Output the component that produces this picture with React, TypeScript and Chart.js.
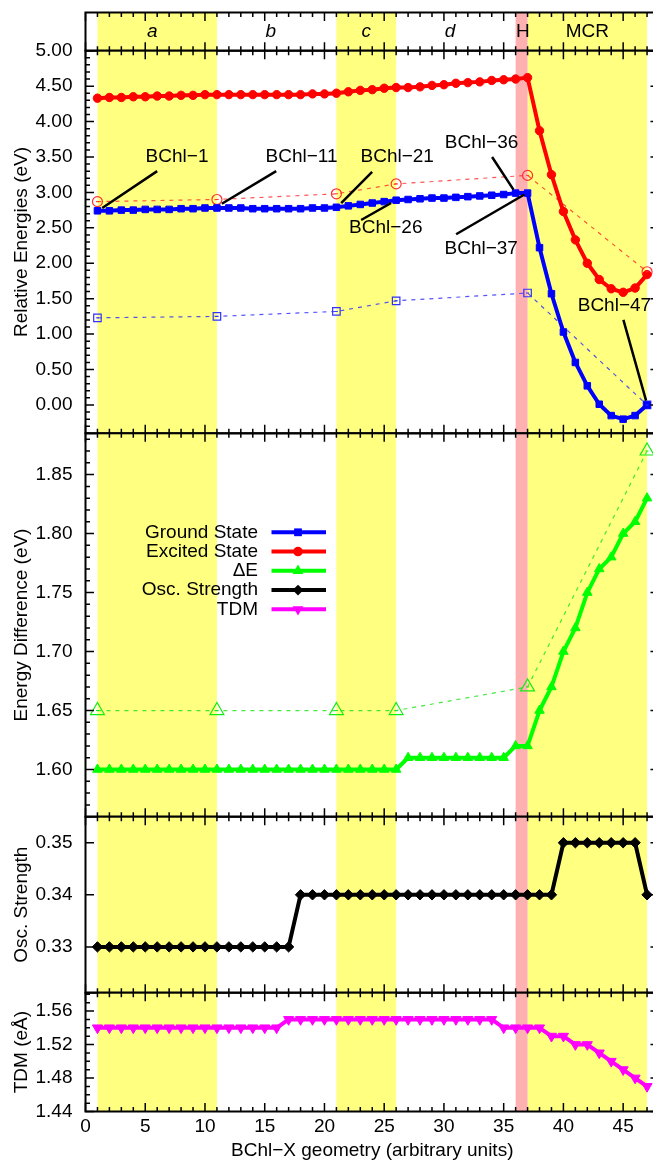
import React, { useEffect, useRef } from 'react';
import { Chart, registerables } from 'chart.js';

Chart.register(...registerables);

// ---------------- data ----------------
const geometry = [
  1, 2, 3, 4, 5, 6, 7, 8, 9, 10,
  11, 12, 13, 14, 15, 16, 17, 18, 19, 20,
  21, 22, 23, 24, 25, 26, 27, 28, 29, 30,
  31, 32, 33, 34, 35, 36, 37, 38, 39, 40,
  41, 42, 43, 44, 45, 46, 47,
];
const groundState = [
  2.74, 2.74, 2.75, 2.75, 2.76, 2.76, 2.76, 2.77, 2.77, 2.78,
  2.78, 2.78, 2.78, 2.77, 2.77, 2.77, 2.77, 2.77, 2.78, 2.78,
  2.79, 2.81, 2.83, 2.85, 2.87, 2.89, 2.90, 2.91, 2.92, 2.92,
  2.93, 2.94, 2.95, 2.96, 2.97, 2.99, 2.99, 2.22, 1.57, 1.03,
  0.60, 0.27, 0.01, -0.15, -0.20, -0.15, 0.00,
];
const excitedState = [
  4.33, 4.34, 4.34, 4.35, 4.35, 4.36, 4.36, 4.37, 4.37, 4.38,
  4.38, 4.38, 4.38, 4.38, 4.38, 4.38, 4.38, 4.38, 4.39, 4.39,
  4.40, 4.42, 4.44, 4.45, 4.47, 4.48, 4.48, 4.49, 4.51, 4.52,
  4.54, 4.55, 4.56, 4.58, 4.59, 4.60, 4.62, 3.87, 3.25, 2.73,
  2.33, 2.00, 1.77, 1.64, 1.59, 1.65, 1.84,
];
const deltaE = [
  1.60, 1.60, 1.60, 1.60, 1.60, 1.60, 1.60, 1.60, 1.60, 1.60,
  1.60, 1.60, 1.60, 1.60, 1.60, 1.60, 1.60, 1.60, 1.60, 1.60,
  1.60, 1.60, 1.60, 1.60, 1.60, 1.60, 1.61, 1.61, 1.61, 1.61,
  1.61, 1.61, 1.61, 1.61, 1.61, 1.62, 1.62, 1.65, 1.67, 1.70,
  1.72, 1.75, 1.77, 1.78, 1.80, 1.81, 1.83,
];
const oscStrength = [
  0.33, 0.33, 0.33, 0.33, 0.33, 0.33, 0.33, 0.33, 0.33, 0.33,
  0.33, 0.33, 0.33, 0.33, 0.33, 0.33, 0.33, 0.34, 0.34, 0.34,
  0.34, 0.34, 0.34, 0.34, 0.34, 0.34, 0.34, 0.34, 0.34, 0.34,
  0.34, 0.34, 0.34, 0.34, 0.34, 0.34, 0.34, 0.34, 0.34, 0.35,
  0.35, 0.35, 0.35, 0.35, 0.35, 0.35, 0.34,
];
const tdm = [
  1.54, 1.54, 1.54, 1.54, 1.54, 1.54, 1.54, 1.54, 1.54, 1.54,
  1.54, 1.54, 1.54, 1.54, 1.54, 1.54, 1.55, 1.55, 1.55, 1.55,
  1.55, 1.55, 1.55, 1.55, 1.55, 1.55, 1.55, 1.55, 1.55, 1.55,
  1.55, 1.55, 1.55, 1.55, 1.54, 1.54, 1.54, 1.54, 1.53, 1.53,
  1.52, 1.52, 1.51, 1.50, 1.49, 1.48, 1.47,
];

const snapshotGeometry = [1, 11, 21, 26, 37, 47];
const groundSnapshot = [1.23, 1.25, 1.32, 1.47, 1.58, 0.00];
const excitedSnapshot = [2.87, 2.90, 2.98, 3.12, 3.24, 1.88];
const deltaSnapshot = [1.65, 1.65, 1.65, 1.65, 1.67, 1.87];

const regionLabels = ['a', 'b', 'c', 'd', 'H', 'MCR'];
const regionLabelX = [5.6, 15.5, 23.5, 30.5, 36.6, 42];
const regionItalic = [true, true, true, true, false, false];
const yellowBands = [[1, 11], [21, 26], [37, 47]];
const pinkBand = [36, 37];

const annotLabels = ['BChl−1', 'BChl−11', 'BChl−21', 'BChl−26', 'BChl−36', 'BChl−37', 'BChl−47'];
const annotTextX = [7.66, 18.08, 26.09, 25.13, 33.15, 33.12, 44.27];
const annotTextY = [3.50, 3.50, 3.50, 2.50, 3.70, 2.20, 1.40];
const annotLineX1 = [6.0, 15.96, 23.99, 23.07, 34.03, 31.02, 45.02];
const annotLineY1 = [3.30, 3.30, 3.29, 2.61, 3.50, 2.41, 1.20];
const annotLineX2 = [1.4, 11.41, 21.4, 25.58, 35.82, 36.74, 46.92];
const annotLineY2 = [2.78, 2.84, 2.85, 2.85, 3.04, 2.97, 0.06];

const legendLabels = ['Ground State', 'Excited State', 'ΔE', 'Osc. Strength', 'TDM'];
const legendColors = ['#0000ff', '#ff0000', '#00ff00', '#000000', '#ff00ff'];
const legendMarkers = ['rect', 'circle', 'triangle', 'rectRot', 'triangleDown'];

const xTicks = [0, 5, 10, 15, 20, 25, 30, 35, 40, 45];
const energyTicks = [0.0, 0.5, 1.0, 1.5, 2.0, 2.5, 3.0, 3.5, 4.0, 4.5, 5.0];
const deltaTicks = [1.60, 1.65, 1.70, 1.75, 1.80, 1.85];
const oscTicks = [0.33, 0.34, 0.35];
const tdmTicks = [1.44, 1.48, 1.52, 1.56];

// ---------------- layout / style ----------------
const FONT_FAMILY = '"Liberation Sans", Arial, Helvetica, sans-serif';
const FONT_SIZE = 19;
const PAGE_W = 653;
const PAGE_H = 1161;
const CANVAS_W = 672;
const AREA_LEFT = 85.5;
const AREA_RIGHT = 659;
const X_MIN = 0;
const X_MAX = 48;
const MARGIN = 30;
const YELLOW = '#ffff80';
const PINK = '#ffb0b0';

function steps(from: number, to: number, step: number): number[] {
  const out: number[] = [];
  const n = Math.round((to - from) / step);
  for (let i = 0; i <= n; i++) out.push(+(from + i * step).toFixed(6));
  return out;
}

const xy = (xs: number[], ys: number[]) => xs.map((x, i) => ({ x, y: ys[i] }));

function drawMarker(ctx: CanvasRenderingContext2D, style: string, x: number, y: number, r: number) {
  ctx.beginPath();
  if (style === 'rect') {
    const s = r * Math.SQRT1_2;
    ctx.rect(x - s, y - s, 2 * s, 2 * s);
  } else if (style === 'circle') {
    ctx.arc(x, y, r, 0, Math.PI * 2);
  } else if (style === 'triangle') {
    ctx.moveTo(x, y - r);
    ctx.lineTo(x + 0.866 * r, y + 0.5 * r);
    ctx.lineTo(x - 0.866 * r, y + 0.5 * r);
    ctx.closePath();
  } else if (style === 'triangleDown') {
    ctx.moveTo(x, y + r);
    ctx.lineTo(x + 0.866 * r, y - 0.5 * r);
    ctx.lineTo(x - 0.866 * r, y - 0.5 * r);
    ctx.closePath();
  } else {
    ctx.moveTo(x - r, y);
    ctx.lineTo(x, y - r);
    ctx.lineTo(x + r, y);
    ctx.lineTo(x, y + r);
    ctx.closePath();
  }
  ctx.fill();
}

const bandPlugin = {
  id: 'bands',
  beforeDatasetsDraw(chart: any) {
    const { ctx, chartArea, scales } = chart;
    const { top, bottom } = chartArea;
    const x = scales.x;
    ctx.save();
    ctx.fillStyle = YELLOW;
    yellowBands.forEach(([a, b]) => {
      const x1 = x.getPixelForValue(a);
      const x2 = x.getPixelForValue(b);
      ctx.fillRect(x1, top, x2 - x1, bottom - top);
    });
    ctx.fillStyle = PINK;
    const p1 = x.getPixelForValue(pinkBand[0]);
    const p2 = x.getPixelForValue(pinkBand[1]);
    ctx.fillRect(p1, top, p2 - p1, bottom - top);
    ctx.restore();
  },
};

// small centre dash inside the open (snapshot) markers
const centreDotPlugin = {
  id: 'centreDots',
  afterDatasetsDraw(chart: any) {
    const { ctx } = chart;
    ctx.save();
    chart.data.datasets.forEach((ds: any, i: number) => {
      if (!ds.openMarker) return;
      const meta = chart.getDatasetMeta(i);
      ctx.strokeStyle = ds.pointBorderColor;
      ctx.lineWidth = 1;
      ctx.beginPath();
      meta.data.forEach((pt: any) => {
        ctx.moveTo(pt.x - 1.5, pt.y);
        ctx.lineTo(pt.x + 1.5, pt.y);
      });
      ctx.stroke();
    });
    ctx.restore();
  },
};

function framePlugin(major: number[], minor: number[]) {
  return {
    id: 'frame',
    afterDatasetsDraw(chart: any) {
      const { ctx, chartArea, scales } = chart;
      const { left, right, top, bottom } = chartArea;
      const x = scales.x;
      const y = scales.y;
      ctx.save();
      ctx.strokeStyle = '#000';
      ctx.lineWidth = 1.5;
      ctx.beginPath();
      for (let v = X_MIN; v <= X_MAX; v++) {
        const px = x.getPixelForValue(v);
        const len = v % 5 === 0 ? 8.5 : 4.5;
        ctx.moveTo(px, top);
        ctx.lineTo(px, top + len);
        ctx.moveTo(px, bottom);
        ctx.lineTo(px, bottom - len);
      }
      const yTick = (v: number, len: number) => {
        const py = y.getPixelForValue(v);
        ctx.moveTo(left, py);
        ctx.lineTo(left + len, py);
        ctx.moveTo(right, py);
        ctx.lineTo(right - len, py);
      };
      minor.forEach((v) => yTick(v, 4.5));
      major.forEach((v) => yTick(v, 8.5));
      ctx.stroke();
      ctx.lineWidth = 2;
      ctx.strokeRect(left, top, right - left, bottom - top);
      ctx.restore();
    },
  };
}

const stripLabelPlugin = {
  id: 'stripLabels',
  afterDatasetsDraw(chart: any) {
    const { ctx, chartArea, scales } = chart;
    const cy = (chartArea.top + chartArea.bottom) / 2;
    ctx.save();
    ctx.fillStyle = '#000';
    ctx.textAlign = 'center';
    ctx.textBaseline = 'middle';
    regionLabels.forEach((t, i) => {
      ctx.font = `${regionItalic[i] ? 'italic ' : ''}${FONT_SIZE}px ${FONT_FAMILY}`;
      ctx.fillText(t, scales.x.getPixelForValue(regionLabelX[i]), cy);
    });
    ctx.restore();
  },
};

const annotationPlugin = {
  id: 'annotations',
  afterDatasetsDraw(chart: any) {
    const { ctx, scales } = chart;
    const x = scales.x;
    const y = scales.y;
    ctx.save();
    ctx.strokeStyle = '#000';
    ctx.lineWidth = 2.5;
    ctx.beginPath();
    annotLabels.forEach((_, i) => {
      ctx.moveTo(x.getPixelForValue(annotLineX1[i]), y.getPixelForValue(annotLineY1[i]));
      ctx.lineTo(x.getPixelForValue(annotLineX2[i]), y.getPixelForValue(annotLineY2[i]));
    });
    ctx.stroke();
    ctx.fillStyle = '#000';
    ctx.font = `${FONT_SIZE}px ${FONT_FAMILY}`;
    ctx.textAlign = 'center';
    ctx.textBaseline = 'middle';
    annotLabels.forEach((t, i) => {
      ctx.fillText(t, x.getPixelForValue(annotTextX[i]), y.getPixelForValue(annotTextY[i]));
    });
    ctx.restore();
  },
};

const legendPlugin = {
  id: 'customLegend',
  afterDatasetsDraw(chart: any) {
    const { ctx, chartArea } = chart;
    const textRight = chartArea.left + 172.5;
    const lineX1 = chartArea.left + 186;
    const lineX2 = chartArea.left + 240.5;
    const markX = chartArea.left + 212.5;
    const row0 = chartArea.top + 99;
    const rowGap = 19.25;
    const radii = [5.5, 4.8, 6.2, 5.4, 6.2];
    ctx.save();
    ctx.font = `${FONT_SIZE}px ${FONT_FAMILY}`;
    ctx.textAlign = 'right';
    ctx.textBaseline = 'middle';
    legendLabels.forEach((t, i) => {
      const yy = row0 + i * rowGap;
      ctx.fillStyle = '#000';
      ctx.fillText(t, textRight, yy);
      ctx.strokeStyle = legendColors[i];
      ctx.lineWidth = 4;
      ctx.beginPath();
      ctx.moveTo(lineX1, yy);
      ctx.lineTo(lineX2, yy);
      ctx.stroke();
      ctx.fillStyle = legendColors[i];
      drawMarker(ctx, legendMarkers[i], markX, yy, radii[i]);
    });
    ctx.restore();
  },
};

// ---------------- panels ----------------
function solid(label: string, ys: number[], color: string, style: string, radius: number, rotation = 0) {
  return {
    label,
    data: xy(geometry, ys),
    borderColor: color,
    backgroundColor: color,
    borderWidth: 4,
    borderJoinStyle: 'round',
    pointStyle: style,
    pointRotation: rotation,
    pointRadius: radius,
    pointBorderWidth: 1,
    pointBorderColor: color,
    pointBackgroundColor: color,
    tension: 0,
    order: 0,
  };
}

function dashed(label: string, ys: number[], line: string, marker: string, style: string, radius: number) {
  return {
    label,
    data: xy(snapshotGeometry, ys),
    borderColor: line,
    backgroundColor: 'rgba(0,0,0,0)',
    borderWidth: 1.2,
    borderDash: [4, 5],
    pointStyle: style,
    pointRadius: radius,
    pointBorderWidth: 1.2,
    pointBorderColor: marker,
    pointBackgroundColor: 'rgba(0,0,0,0)',
    tension: 0,
    order: 1,
    openMarker: true,
  };
}

type Panel = {
  key: string;
  top: number;
  bottom: number;
  yMin: number;
  yMax: number;
  major: number[];
  minor: number[];
  title: string;
  showX: boolean;
  datasets: any[];
  plugins: any[];
};

const PANELS: Panel[] = [
  {
    key: 'strip', top: 12.5, bottom: 50.7, yMin: 0, yMax: 1, major: [], minor: [], title: '',
    showX: false, datasets: [], plugins: [stripLabelPlugin],
  },
  {
    key: 'energy', top: 50.7, bottom: 433.3, yMin: -0.4, yMax: 5.0, major: energyTicks,
    minor: steps(-0.4, 5.0, 0.1), title: 'Relative Energies (eV)', showX: false,
    datasets: [
      solid('Ground State', groundState, '#0000ff', 'rect', 4.6),
      solid('Excited State', excitedState, '#ff0000', 'circle', 4.2),
      dashed('Ground (snapshot)', groundSnapshot, 'rgba(40,40,255,0.8)', '#3030ff', 'rect', 5.3),
      dashed('Excited (snapshot)', excitedSnapshot, 'rgba(255,40,40,0.8)', '#ff3030', 'circle', 5),
    ],
    plugins: [annotationPlugin, centreDotPlugin],
  },
  {
    key: 'delta', top: 433.3, bottom: 816.7, yMin: 1.56, yMax: 1.885, major: deltaTicks,
    minor: steps(1.56, 1.88, 0.01), title: 'Energy Difference (eV)', showX: false,
    datasets: [
      solid('ΔE', deltaE, '#00ff00', 'triangle', 5.5),
      dashed('ΔE (snapshot)', deltaSnapshot, 'rgba(30,230,30,0.85)', '#10ee10', 'triangle', 8),
    ],
    plugins: [legendPlugin, centreDotPlugin],
  },
  {
    key: 'osc', top: 816.7, bottom: 992.7, yMin: 0.3212, yMax: 0.355, major: oscTicks,
    minor: [], title: 'Osc. Strength', showX: false,
    datasets: [solid('Osc. Strength', oscStrength, '#000000', 'rectRot', 5.2)],
    plugins: [],
  },
  {
    key: 'tdm', top: 992.7, bottom: 1111.5, yMin: 1.44, yMax: 1.582, major: tdmTicks,
    minor: steps(1.44, 1.58, 0.01), title: 'TDM (eÅ)', showX: true,
    datasets: [solid('TDM', tdm, '#ff00ff', 'triangle', 5.8, 180)],
    plugins: [],
  },
];

function canvasBox(p: Panel) {
  const top = Math.max(0, Math.floor(p.top) - MARGIN);
  const bottom = p.showX ? PAGE_H : Math.ceil(p.bottom) + MARGIN;
  return {
    top,
    height: bottom - top,
    padTop: p.top - top,
    padBottom: p.showX ? 0 : bottom - p.bottom,
  };
}

function buildConfig(p: Panel): any {
  const box = canvasBox(p);
  const font = { family: FONT_FAMILY, size: FONT_SIZE };
  const isStrip = p.key === 'strip';
  return {
    type: 'line',
    data: { datasets: p.datasets },
    options: {
      responsive: false,
      maintainAspectRatio: false,
      animation: false,
      devicePixelRatio: 1,
      events: [],
      layout: {
        padding: { left: 0, right: CANVAS_W - AREA_RIGHT, top: box.padTop, bottom: box.padBottom },
      },
      plugins: { legend: { display: false }, tooltip: { enabled: false } },
      scales: {
        x: {
          type: 'linear',
          min: X_MIN,
          max: X_MAX,
          display: p.showX,
          afterBuildTicks: (s: any) => {
            s.ticks = xTicks.map((v) => ({ value: v }));
          },
          afterFit: (s: any) => {
            if (p.showX) s.height = PAGE_H - p.bottom;
          },
          grid: { display: false, drawTicks: false },
          border: { display: false },
          ticks: {
            font,
            color: '#000',
            padding: 4,
            maxRotation: 0,
            autoSkip: false,
            callback: (v: any) => String(v),
          },
          title: {
            display: p.showX,
            text: 'BChl−X geometry (arbitrary units)',
            font,
            color: '#000',
            padding: { top: 0, bottom: -1 },
          },
        },
        y: {
          type: 'linear',
          min: p.yMin,
          max: p.yMax,
          afterBuildTicks: (s: any) => {
            s.ticks = p.major.map((v) => ({ value: v }));
          },
          afterFit: (s: any) => {
            s.width = AREA_LEFT;
          },
          grid: { display: false, drawTicks: false },
          border: { display: false },
          ticks: {
            display: !isStrip,
            font,
            color: '#000',
            padding: 13,
            autoSkip: false,
            callback: (v: any) => Number(v).toFixed(2),
          },
          title: {
            display: !isStrip,
            text: p.title,
            font,
            color: '#000',
            padding: { top: 10, bottom: 0 },
          },
        },
      },
    },
    plugins: [bandPlugin, ...p.plugins, framePlugin(p.major, p.minor)],
  };
}

export default function App() {
  const refs = useRef<(HTMLCanvasElement | null)[]>([]);

  useEffect(() => {
    const charts = PANELS.map((p, i) => new Chart(refs.current[i] as HTMLCanvasElement, buildConfig(p)));
    return () => charts.forEach((c) => c.destroy());
  }, []);

  return (
    <div
      style={{
        position: 'fixed',
        left: 0,
        top: 0,
        width: PAGE_W,
        height: PAGE_H,
        overflow: 'hidden',
        background: '#ffffff',
      }}
    >
      {PANELS.map((p, i) => {
        const b = canvasBox(p);
        return (
          <canvas
            key={p.key}
            ref={(el) => {
              refs.current[i] = el;
            }}
            width={CANVAS_W}
            height={b.height}
            style={{ position: 'absolute', left: 0, top: b.top, width: CANVAS_W, height: b.height, display: 'block' }}
          />
        );
      })}
    </div>
  );
}
